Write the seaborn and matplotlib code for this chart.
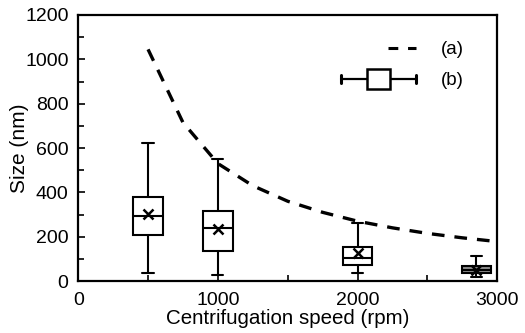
import matplotlib
matplotlib.use("Agg")
import matplotlib.pyplot as plt
import seaborn as sns
import pandas as pd
from matplotlib.legend_handler import HandlerBase
from matplotlib.lines import Line2D
from matplotlib.patches import Rectangle, Patch
from matplotlib.ticker import MultipleLocator

# (a) dashed curve
speed_a = [500, 750, 1000, 1250, 1500, 1750, 2000, 2250, 2500, 2750, 3000]
size_a = [1045, 715, 530, 430, 360, 310, 270, 240, 215, 195, 178]

# (b) box stats
speed_b = [500, 1000, 2000, 2850]
whislo = [36, 27, 36, 18]
q1 = [207, 135, 72, 36]
med = [293, 239, 104, 50]
q3 = [378, 315, 153, 68]
whishi = [622, 550, 261, 113]
mean = [302, 237, 126, 48]

legend_labels = ["(a)", "(b)"]

sns.set_theme(style="ticks")
plt.rcParams["font.family"] = ["Liberation Sans", "DejaVu Sans"]
plt.rcParams["text.color"] = "black"

fig = plt.figure(figsize=(5.25, 3.33), dpi=100)
ax = fig.add_axes([0.149, 0.156, 0.798, 0.799])

df = pd.DataFrame({"speed": speed_a, "size": size_a})
sns.lineplot(data=df, x="speed", y="size", ax=ax, color="black",
             lw=2.4, linestyle=(0, (3.8, 3.0)), zorder=4)

stats = []
for i in range(len(speed_b)):
    stats.append(dict(whislo=whislo[i], q1=q1[i], med=med[i], q3=q3[i],
                      whishi=whishi[i], mean=mean[i], fliers=[]))

bp = ax.bxp(stats, positions=speed_b, widths=210, capwidths=80,
            showmeans=True, patch_artist=True, manage_ticks=False,
            boxprops=dict(facecolor="white", edgecolor="black", lw=1.5),
            medianprops=dict(color="black", lw=1.5, zorder=5),
            whiskerprops=dict(color="black", lw=1.5),
            capprops=dict(color="black", lw=1.5),
            meanprops=dict(marker="x", markeredgecolor="black",
                           markersize=7, markeredgewidth=1.8, zorder=6))
bp["boxes"][-1].set_facecolor("#8c8c8c")


class DashHandler(HandlerBase):
    def create_artists(self, legend, orig, xd, yd, w, h, fontsize, trans):
        y = -yd + h / 2
        ln = Line2D([-xd + w * 0.62, -xd + w], [y, y], color="black", lw=2.2,
                    linestyle=(0, (3.2, 3.2)), transform=trans)
        return [ln]


class BoxHandler(HandlerBase):
    def create_artists(self, legend, orig, xd, yd, w, h, fontsize, trans):
        y = -yd + h / 2
        x0, x1 = -xd, -xd + w
        bw, bh = w * 0.3, h * 1.5
        cx = (x0 + x1) / 2
        ln = Line2D([x0, x1], [y, y], color="black", lw=1.6, transform=trans)
        c1 = Line2D([x0, x0], [y - h * 0.28, y + h * 0.28], color="black", lw=2.2, transform=trans)
        c2 = Line2D([x1, x1], [y - h * 0.28, y + h * 0.28], color="black", lw=2.2, transform=trans)
        r = Rectangle((cx - bw / 2, y - bh / 2), bw, bh, facecolor="white",
                      edgecolor="black", lw=1.8, transform=trans)
        return [ln, c1, c2, r]


h_a = Line2D([], [], color="black")
h_b = Patch()
leg = ax.legend([h_a, h_b], legend_labels, loc="upper right", frameon=False,
                handlelength=4.0, handletextpad=1.3, labelspacing=0.75, fontsize=13.5,
                bbox_to_anchor=(0.96, 0.965),
                handler_map={h_a: DashHandler(), h_b: BoxHandler()})
for t in leg.get_texts():
    t.set_color("black")

ax.set_xlim(0, 3000)
ax.set_ylim(0, 1200)
ax.xaxis.set_major_locator(MultipleLocator(1000))
ax.xaxis.set_minor_locator(MultipleLocator(500))
ax.yaxis.set_major_locator(MultipleLocator(200))
ax.yaxis.set_minor_locator(MultipleLocator(100))
ax.tick_params(which="both", direction="in", colors="black", labelcolor="black",
               labelsize=14, width=1.2)
ax.tick_params(which="major", length=5)
ax.tick_params(axis="x", which="major", pad=8)
ax.tick_params(axis="y", which="major", pad=7)
ax.tick_params(which="minor", length=4)
for s in ax.spines.values():
    s.set_linewidth(1.6)
    s.set_color("black")

ax.set_xlabel("Centrifugation speed (rpm)", fontsize=14.8, labelpad=0, color="black")
ax.set_ylabel("Size (nm)", fontsize=15, labelpad=-3, color="black")

fig.savefig("out.png", dpi=100)
